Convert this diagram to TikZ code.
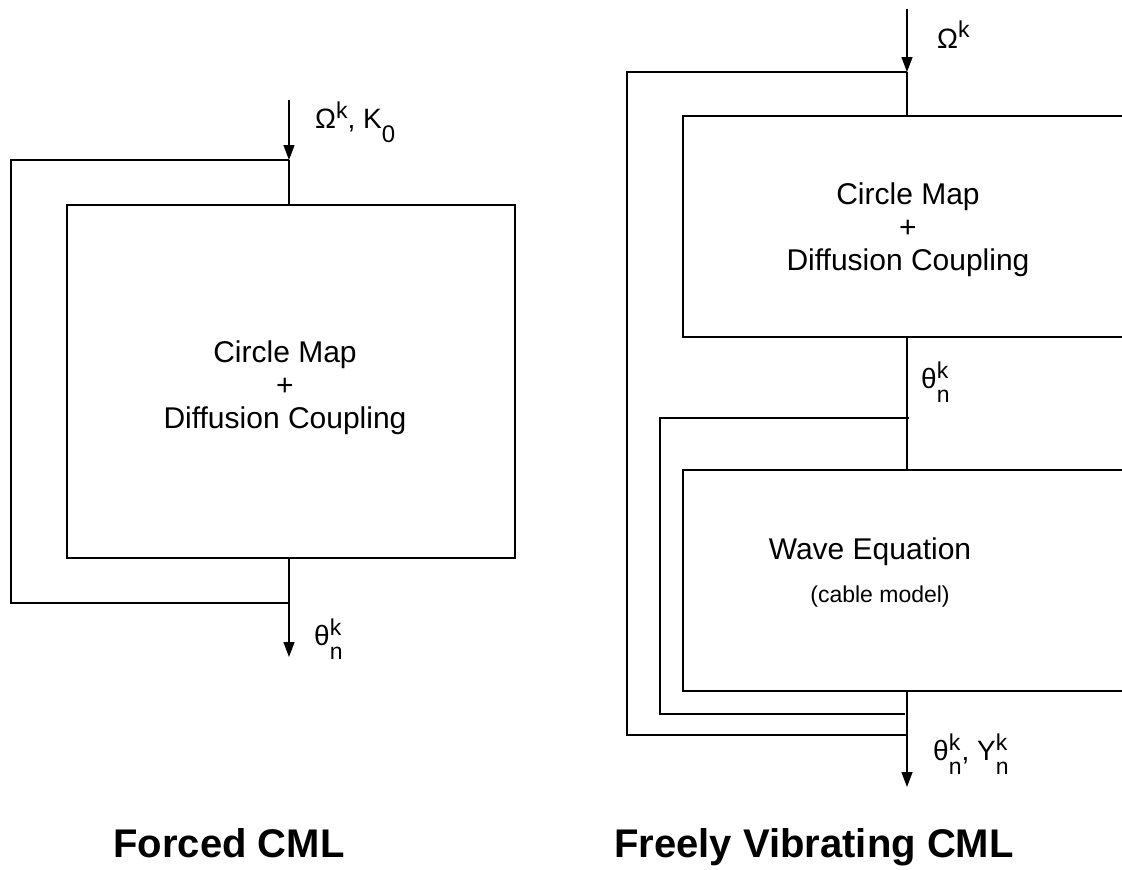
\documentclass[tikz,border=0pt]{standalone}
\usepackage{fontspec}
\setmainfont{Liberation Sans}
\usetikzlibrary{arrows.meta}
% superscript over subscript, as in the drawing
\newcommand{\supsub}[2]{\rlap{\raisebox{10pt}{\fontsize{23}{24}\selectfont #1}}\raisebox{-14pt}{\fontsize{23}{24}\selectfont #2}}
\newcommand{\subonly}[1]{\raisebox{-14pt}{\fontsize{24}{24}\selectfont #1}}
\newcommand{\suponly}[1]{\raisebox{10pt}{\fontsize{23}{24}\selectfont #1}}

\begin{document}
\begin{tikzpicture}[x=1pt,y=-1pt,
  blk/.style={draw, line width=1.3pt, inner sep=0pt},
  wire/.style={line width=1.3pt},
  feed/.style={wire, -{Triangle[length=15pt,width=11pt]}},
  boxtext/.style={align=center, font=\fontsize{30}{33}\selectfont},
  sig/.style={anchor=base west, inner sep=0pt, font=\fontsize{28}{30}\selectfont},
  cmltitle/.style={anchor=base, inner sep=0pt, font=\fontsize{40}{48}\selectfont\bfseries}]

\useasboundingbox (0,0) rectangle (1122,870);
\clip (0,0) rectangle (1122,870);

% forced CML
\coordinate (fsrc) at (289,100);
\coordinate (ftop) at (289,160);
\coordinate (fret) at (289,603);
\coordinate (fsnk) at (289,657);
\node[blk, minimum width=448pt, minimum height=353pt] (fmap) at (291,381.5) {};
\node[boxtext] (ftxt) at (285,388) {Circle Map\\+\\Diffusion Coupling};

\draw[feed] (fsrc) -- (ftop);
\draw[wire] (ftop) -- (ftop |- fmap.north);
\draw[wire] (ftop) -- ++(-278,0) |- (fret);
\draw[wire] (fmap.south -| fret) -- (fret);
\draw[feed] (fret) -- (fsnk);

\node[sig] (fin) at (315,128) {Ω\suponly{k}, K\subonly{0}};
\node[sig] (fout) at (314,645) {θ\supsub{k}{n}};

% freely vibrating CML
\coordinate (vsrc) at (907,9);
\coordinate (vtop) at (907,72);
\coordinate (vmid) at (907,418);
\coordinate (vinner) at (905,714);
\coordinate (vret) at (907,735);
\coordinate (vsnk) at (907,787);
\node[blk, minimum width=517pt, minimum height=221pt] (cmap) at (941.5,226.5) {};
\node[blk, minimum width=517pt, minimum height=221pt] (wave) at (941.5,580.5) {};
\node[boxtext] (ctxt) at (908,230) {Circle Map\\+\\Diffusion Coupling};
\node[anchor=base, font=\fontsize{30}{34}\selectfont] (wtxt) at (870,559) {Wave Equation};
\node[anchor=base, font=\fontsize{23}{27}\selectfont] (wsub) at (880,602) {(cable model)};

\draw[feed] (vsrc) -- (vtop);
\draw[wire] (vtop) -- (vtop |- cmap.north);
\draw[wire] (vtop) -- ++(-280,0) |- (vret);
\draw[wire] (cmap.south -| vtop) -- (wave.north -| vtop);
\draw[wire] ([xshift=2pt]vmid) -- ++(-249,0) |- (vinner);
\draw[wire] (wave.south -| vret) -- (vret);
\draw[feed] (vret) -- (vsnk);

\node[sig] (vin) at (937,48) {Ω\suponly{k}};
\node[sig] (vth) at (921,388) {θ\supsub{k}{n}};
\node[sig] (vout) at (933,760) {θ\supsub{k}{n}, Y\supsub{k}{n}};

\node[cmltitle] (ftitle) at (229,857) {Forced CML};
\node[cmltitle] (vtitle) at (814,857) {Freely Vibrating CML};
\end{tikzpicture}
\end{document}
